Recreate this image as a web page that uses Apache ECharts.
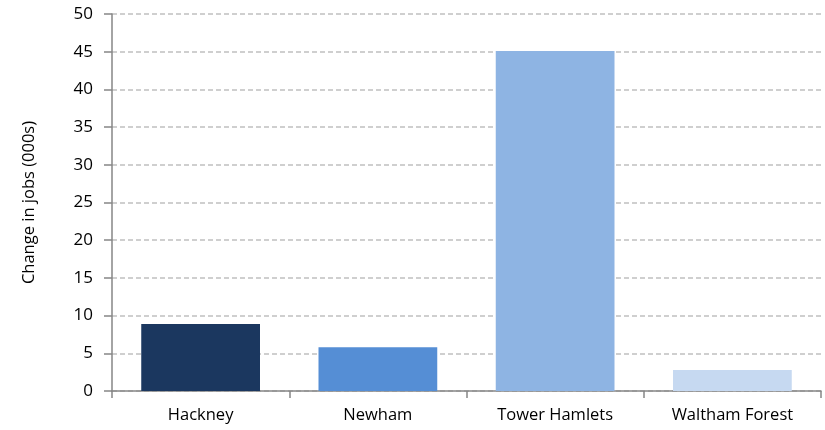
<!DOCTYPE html>
<html>
<head>
<meta charset="utf-8">
<script src="https://cdn.jsdelivr.net/npm/echarts@6/dist/echarts.min.js"></script>
<style>
  html, body { margin: 0; padding: 0; background: #ffffff; }
  #chart { width: 825px; height: 430px; }
</style>
</head>
<body>
<div id="chart"></div>
<script>
// Boroughs and the change in jobs (thousands)
const boroughs = ['Hackney', 'Newham', 'Tower Hamlets', 'Waltham Forest'];
const jobChange = [8.9, 5.8, 45.1, 2.8];
const barColors = ['#1b375f', '#558ed5', '#8eb4e3', '#c6d9f1'];
const yTitle = 'Change in jobs (000s)';

const font = '"Open Sans", "Liberation Sans", sans-serif';
const chart = echarts.init(document.getElementById('chart'));

chart.setOption({
  animation: false,
  grid: { left: 112, right: 4, top: 14, bottom: 39 },
  xAxis: {
    type: 'category',
    data: boroughs,
    axisLine: { lineStyle: { color: '#868686', width: 1.5 } },
    axisTick: { show: true, length: 7, alignWithLabel: false, lineStyle: { color: '#868686', width: 1.5 } },
    axisLabel: { color: '#000', fontFamily: font, fontSize: 16.5, margin: 16 }
  },
  yAxis: {
    type: 'value',
    min: 0,
    max: 50,
    interval: 5,
    name: yTitle,
    nameLocation: 'middle',
    nameGap: 74,
    nameRotate: 90,
    nameTextStyle: { color: '#000', fontFamily: font, fontSize: 16.5 },
    axisLine: { show: true, lineStyle: { color: '#868686', width: 1.5 } },
    axisTick: { show: true, length: 8, lineStyle: { color: '#868686', width: 1.5 } },
    axisLabel: { color: '#000', fontFamily: font, fontSize: 17, margin: 19 },
    splitLine: { lineStyle: { color: '#c0c0c0', type: [5, 3], width: 1.5 } }
  },
  series: [{
    type: 'bar',
    barWidth: '67%',
    data: jobChange.map((v, i) => ({ value: v, itemStyle: { color: barColors[i] } }))
  }]
});
</script>
</body>
</html>
